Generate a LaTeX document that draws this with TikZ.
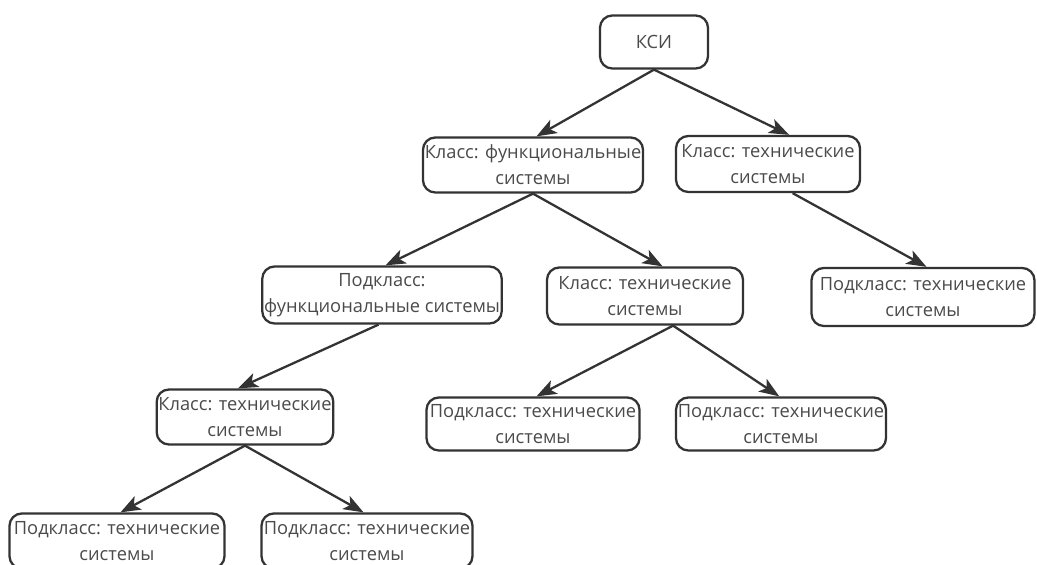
\documentclass[tikz,border=0pt]{standalone}
\usepackage{fontspec}
\setmainfont{Open Sans}
\usetikzlibrary{arrows.meta, positioning}
\definecolor{linegray}{HTML}{333333}
\definecolor{textgray}{HTML}{4A4A4A}

\begin{document}
\begin{tikzpicture}[
  box/.style={draw=linegray, line width=1.3pt, rounded corners=7pt, align=center,
    text=textgray, inner sep=1pt, minimum height=1.1cm,
    font=\fontsize{10.4}{14.8}\selectfont},
  link/.style={draw=linegray, line width=1.3pt, -{Stealth[length=4mm,width=3mm,inset=1mm]}}]

  \useasboundingbox (0,0) rectangle (20.74,-11.3);

  \node[box, minimum width=2.16cm, minimum height=1.06cm] (ksi) at (13.08,-0.84) {КСИ};
  \node[box, minimum width=4.28cm] (kfunc) at (10.66,-3.3) {Класс: функциональные\\системы};
  \node[box, minimum width=3.68cm, minimum height=1.12cm] (ktech) at (15.36,-3.28) {Класс: технические\\системы};
  \node[box, minimum width=4.78cm, minimum height=1.14cm] (pfunc) at (7.64,-5.9) {Подкласс:\\функциональные системы};
  \node[box, minimum width=3.92cm, minimum height=1.14cm] (ktechb) at (12.9,-5.92) {Класс: технические\\системы};
  \node[box, minimum width=4.46cm, minimum height=1.16cm] (ptecha) at (18.46,-5.94) {Подкласс: технические\\системы};
  \node[box, minimum width=3.5cm] (ktechc) at (4.9,-8.34) {Класс: технические\\системы};
  \node[box, minimum width=4.26cm, minimum height=1.06cm] (ptechb) at (10.66,-8.48) {Подкласс: технические\\системы};
  \node[box, minimum width=4.2cm, minimum height=1.06cm] (ptechc) at (15.62,-8.48) {Подкласс: технические\\системы};
  \node[box, minimum width=4.3cm, minimum height=1.1cm] (ptechd) at (2.34,-10.82) {Подкласс: технические\\системы};
  \node[box, minimum width=4.22cm, minimum height=1.1cm] (pteche) at (7.34,-10.82) {Подкласс: технические\\системы};

  % arrows
  \draw[link] (ksi.south) -- ([xshift=2pt]kfunc.north);
  \draw[link] (ksi.south) -- ([xshift=12pt]ktech.north);
  \draw[link] (kfunc.south) -- ([xshift=2pt]pfunc.north);
  \draw[link] (kfunc.south) -- ([xshift=10pt]ktechb.north);
  \draw[link] ([xshift=14pt]ktech.south) -- ([xshift=2pt]ptecha.north);
  \draw[link] ([xshift=-2pt]pfunc.south) -- ([xshift=-4pt]ktechc.north);
  \draw[link] ([xshift=16pt]ktechb.south) -- ([xshift=2pt]ptechb.north);
  \draw[link] ([xshift=16pt]ktechb.south) -- ([xshift=-1pt]ptechc.north);
  \draw[link] (ktechc.south) -- ([xshift=2pt]ptechd.north);
  \draw[link] (ktechc.south) -- ([xshift=-2pt]pteche.north);
\end{tikzpicture}
\end{document}
